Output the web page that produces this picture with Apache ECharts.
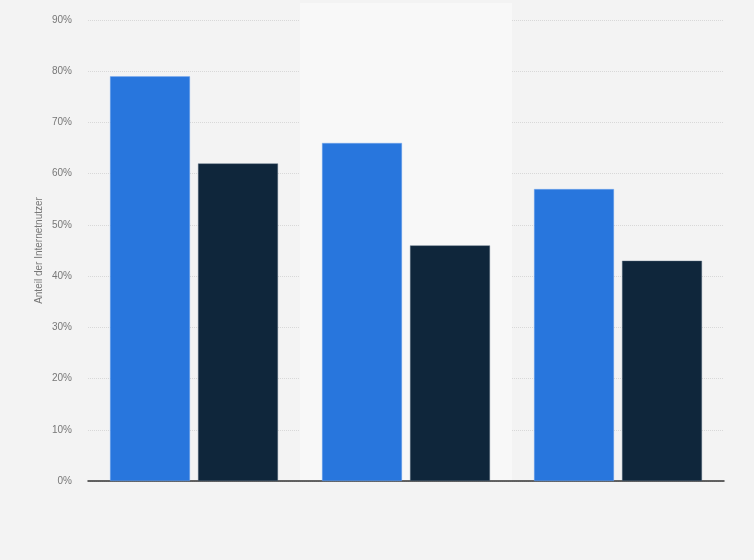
<!DOCTYPE html>
<html>
<head>
<meta charset="utf-8">
<script src="https://cdn.jsdelivr.net/npm/echarts@6/dist/echarts.min.js"></script>
<style>
html,body{margin:0;padding:0;background:#f3f3f3;}
#chart{width:754px;height:560px;}
</style>
</head>
<body>
<div id="chart"></div>
<script>
var categories = ['Kategorie 1', 'Kategorie 2', 'Kategorie 3'];
var seriesA = [79, 66, 57];
var seriesB = [62, 46, 43];
var yTicks = [0, 10, 20, 30, 40, 50, 60, 70, 80, 90];

var chart = echarts.init(document.getElementById('chart'));
var option = {
  backgroundColor: '#f3f3f3',
  animation: false,
  grid: { left: 88, right: 30, top: 20, bottom: 79 },
  xAxis: {
    type: 'category',
    data: categories,
    axisLine: { show: true, lineStyle: { color: '#333', width: 1.5 } },
    axisTick: { show: false },
    axisLabel: { show: false },
    splitArea: { show: true, areaStyle: { color: ['rgba(0,0,0,0)', '#f8f8f8'] } }
  },
  yAxis: {
    type: 'value',
    min: yTicks[0],
    max: yTicks[yTicks.length - 1],
    interval: 10,
    name: 'Anteil der Internetnutzer',
    nameLocation: 'middle',
    nameGap: 44,
    nameMoveOverlap: false,
    nameTextStyle: { color: '#777', fontSize: 10, fontFamily: 'Liberation Sans, Arial, sans-serif' },
    axisLine: { show: false },
    axisTick: { show: false },
    axisLabel: { color: '#777', fontSize: 10, margin: 16, fontFamily: 'Liberation Sans, Arial, sans-serif', formatter: '{value}%' },
    splitLine: { show: true, lineStyle: { color: '#d8d8d8', type: [1, 1], width: 1 } }
  },
  series: [
    {
      type: 'bar', data: seriesA, barWidth: 80, barGap: '10%',
      itemStyle: { color: '#2876dd', borderColor: 'rgba(120,170,240,0.8)', borderWidth: 0.5 }
    },
    {
      type: 'bar', data: seriesB, barWidth: 80, barGap: '10%',
      itemStyle: { color: '#0f263b', borderColor: 'rgba(90,110,130,0.8)', borderWidth: 0.5 }
    }
  ]
};
chart.setOption(option);

// extend the middle category band upward above the top gridline
var p0 = chart.convertToPixel({ xAxisIndex: 0 }, 0);
var p1 = chart.convertToPixel({ xAxisIndex: 0 }, 1);
var step = p1 - p0;
var yTop = chart.convertToPixel({ yAxisIndex: 0 }, yTicks[yTicks.length - 1]);
chart.setOption({
  graphic: [{
    type: 'rect', z: -1, silent: true,
    shape: { x: p1 - step / 2, y: 3, width: step, height: yTop - 3 },
    style: { fill: '#f8f8f8' }
  }]
});
</script>
</body>
</html>
